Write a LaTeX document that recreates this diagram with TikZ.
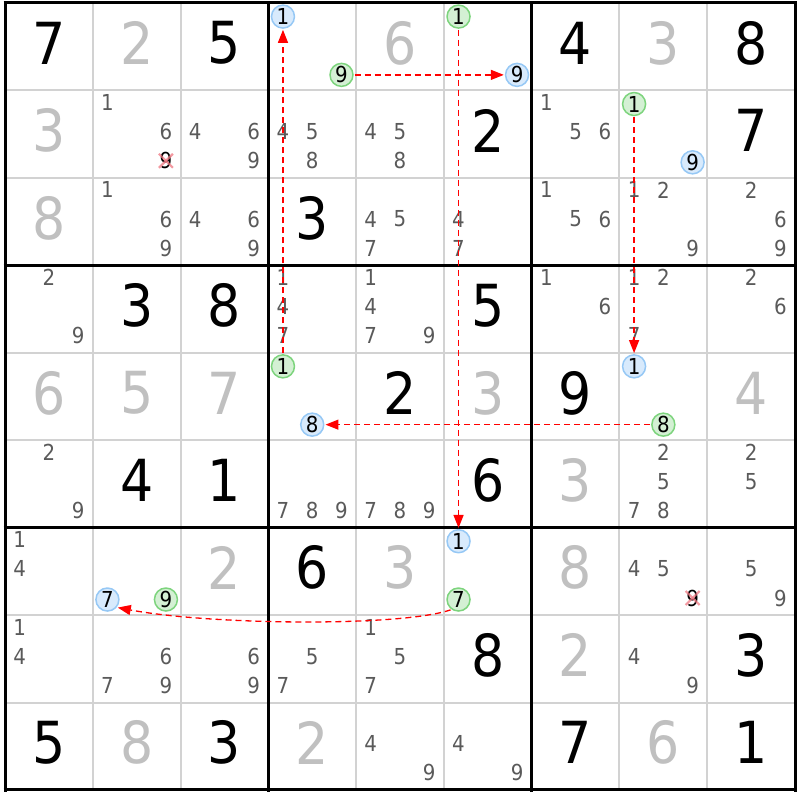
\documentclass[tikz,border=0pt]{standalone}
\usepackage{fontspec}
\setmainfont{DejaVu Sans Condensed}
\usetikzlibrary{arrows.meta}
\definecolor{solvedc}{RGB}{192,192,192}
\definecolor{candc}{RGB}{90,90,90}
\definecolor{thinc}{RGB}{210,210,210}
\definecolor{bluefill}{RGB}{216,234,252}
\definecolor{bluedraw}{RGB}{150,200,245}
\definecolor{greenfill}{RGB}{212,240,212}
\definecolor{greendraw}{RGB}{125,212,125}
\definecolor{xmarkc}{RGB}{240,120,130}
\newcommand\Dg[4]{\node[#1] (d-#2-#3) at ({5+(#3-0.5)*87.78},{3+(#2-0.5)*87.44-3.5}) {#4};}
\newcommand\Cand[4][cand]{\node[#1] (c-#2-#3-#4) at ({5+(#3-1)*87.78+(mod(#4-1,3)+0.5)*29.26},{3+(#2-1)*87.44+(floor((#4-1)/3)+0.5)*29.15-2.5}) {#4};}
\newcommand\Circ[4]{\node[#1] (c-#2-#3-#4) at ({5+(#3-1)*87.78+(mod(#4-1,3)+0.5)*29.26},{3+(#2-1)*87.44+(floor((#4-1)/3)+0.5)*29.15-1}) {#4};}
\newcommand\Cands[3]{\foreach \dd in {#3}{\Cand{#1}{#2}{\dd}}}
\newcommand\XCand[3]{\Cand[xcand]{#1}{#2}{#3}
  \draw[xmark] ([shift={(-7,-7)}]c-#1-#2-#3.center) -- ([shift={(7,7)}]c-#1-#2-#3.center);
  \draw[xmark] ([shift={(7,-7)}]c-#1-#2-#3.center) -- ([shift={(-7,7)}]c-#1-#2-#3.center);}
\begin{document}
\begin{tikzpicture}[x=1pt,y=-1pt,
  givenc/.style={inner sep=0pt,font=\fontsize{58}{60}\selectfont,text=black},
  solved/.style={inner sep=0pt,font=\fontsize{58}{60}\selectfont,text=solvedc},
  cand/.style={inner sep=0pt,font=\fontsize{22}{24}\selectfont,text=candc},
  xcand/.style={inner sep=0pt,font=\fontsize{22}{24}\selectfont,text=black},
  xmark/.style={draw=xmarkc,line width=2.2pt,opacity=0.75},
  bluec/.style={circle,draw=bluedraw,fill=bluefill,line width=1.5pt,minimum size=23pt,inner sep=0pt,font=\fontsize{22}{24}\selectfont,text=black},
  greenc/.style={circle,draw=greendraw,fill=greenfill,line width=1.5pt,minimum size=23pt,inner sep=0pt,font=\fontsize{22}{24}\selectfont,text=black},
  chain/.style={draw=red,line width=1.3pt,dash pattern=on 6pt off 4pt,-{Triangle[length=13pt,width=10pt]},shorten >=1pt,shorten <=1pt},
  thinline/.style={draw=thinc,line width=2pt},
  thickline/.style={draw=black,line width=3pt}]
\useasboundingbox (0,0) rectangle (800,800);
\fill[white] (0,0) rectangle (800,800);
% grid
\foreach \i in {1,2,4,5,7,8}{
  \draw[thinline] ({5+\i*87.78},3) -- ({5+\i*87.78},790);
  \draw[thinline] (5,{3+\i*87.44}) -- (795,{3+\i*87.44});
}
\foreach \i in {0,3,6,9}{
  \draw[thickline] ({5+\i*87.78},1.5) -- ({5+\i*87.78},791.5);
  \draw[thickline] (3.5,{3+\i*87.44}) -- (796.5,{3+\i*87.44});
}
% givens
\Dg{givenc}{1}{1}{7} \Dg{givenc}{1}{3}{5} \Dg{givenc}{1}{7}{4} \Dg{givenc}{1}{9}{8}
\Dg{givenc}{2}{6}{2} \Dg{givenc}{2}{9}{7}
\Dg{givenc}{3}{4}{3}
\Dg{givenc}{4}{2}{3} \Dg{givenc}{4}{3}{8} \Dg{givenc}{4}{6}{5}
\Dg{givenc}{5}{5}{2} \Dg{givenc}{5}{7}{9}
\Dg{givenc}{6}{2}{4} \Dg{givenc}{6}{3}{1} \Dg{givenc}{6}{6}{6}
\Dg{givenc}{7}{4}{6}
\Dg{givenc}{8}{6}{8} \Dg{givenc}{8}{9}{3}
\Dg{givenc}{9}{1}{5} \Dg{givenc}{9}{3}{3} \Dg{givenc}{9}{7}{7} \Dg{givenc}{9}{9}{1}
% solved
\Dg{solved}{1}{2}{2} \Dg{solved}{1}{5}{6} \Dg{solved}{1}{8}{3}
\Dg{solved}{2}{1}{3} \Dg{solved}{3}{1}{8}
\Dg{solved}{5}{1}{6} \Dg{solved}{5}{2}{5} \Dg{solved}{5}{3}{7} \Dg{solved}{5}{6}{3} \Dg{solved}{5}{9}{4}
\Dg{solved}{6}{7}{3}
\Dg{solved}{7}{3}{2} \Dg{solved}{7}{5}{3} \Dg{solved}{7}{7}{8}
\Dg{solved}{8}{7}{2}
\Dg{solved}{9}{2}{8} \Dg{solved}{9}{4}{2} \Dg{solved}{9}{8}{6}
% candidates
\Cands{2}{2}{1,6} \XCand{2}{2}{9}
\Cands{2}{3}{4,6,9} \Cands{2}{4}{4,5,8} \Cands{2}{5}{4,5,8} \Cands{2}{7}{1,5,6}
\Cands{3}{2}{1,6,9} \Cands{3}{3}{4,6,9} \Cands{3}{5}{4,5,7} \Cands{3}{6}{4,7}
\Cands{3}{7}{1,5,6} \Cands{3}{8}{1,2,9} \Cands{3}{9}{2,6,9}
\Cands{4}{1}{2,9} \Cands{4}{4}{1,4,7} \Cands{4}{5}{1,4,7,9} \Cands{4}{7}{1,6}
\Cands{4}{8}{1,2,7} \Cands{4}{9}{2,6}
\Cands{6}{1}{2,9} \Cands{6}{4}{7,8,9} \Cands{6}{5}{7,8,9} \Cands{6}{8}{2,5,7,8} \Cands{6}{9}{2,5}
\Cands{7}{1}{1,4} \Cands{7}{8}{4,5} \XCand{7}{8}{9} \Cands{7}{9}{5,9}
\Cands{8}{1}{1,4} \Cands{8}{2}{6,7,9} \Cands{8}{3}{6,9} \Cands{8}{4}{5,7} \Cands{8}{5}{1,5,7}
\Cands{8}{8}{4,9}
\Cands{9}{5}{4,9} \Cands{9}{6}{4,9}
% circled candidates
\Circ{bluec}{1}{4}{1} \Circ{greenc}{1}{4}{9}
\Circ{greenc}{1}{6}{1} \Circ{bluec}{1}{6}{9}
\Circ{greenc}{2}{8}{1} \Circ{bluec}{2}{8}{9}
\Circ{greenc}{5}{4}{1} \Circ{bluec}{5}{4}{8}
\Circ{bluec}{5}{8}{1} \Circ{greenc}{5}{8}{8}
\Circ{bluec}{7}{2}{7} \Circ{greenc}{7}{2}{9}
\Circ{bluec}{7}{6}{1} \Circ{greenc}{7}{6}{7}
% chains
\draw[chain] (c-5-4-1.north) -- (c-1-4-1.south);
\draw[chain] (c-1-4-9.east) -- (c-1-6-9.west);
\draw[chain] (c-1-6-1.south) -- (c-7-6-1.north);
\draw[chain] (c-2-8-1.south) -- (c-5-8-1.north);
\draw[chain] (c-5-8-8.west) -- (c-5-4-8.east);
\draw[chain] (c-7-6-7.-125) .. controls (400,627) and (210,625) .. (c-7-2-7.-40);
\end{tikzpicture}
\end{document}
